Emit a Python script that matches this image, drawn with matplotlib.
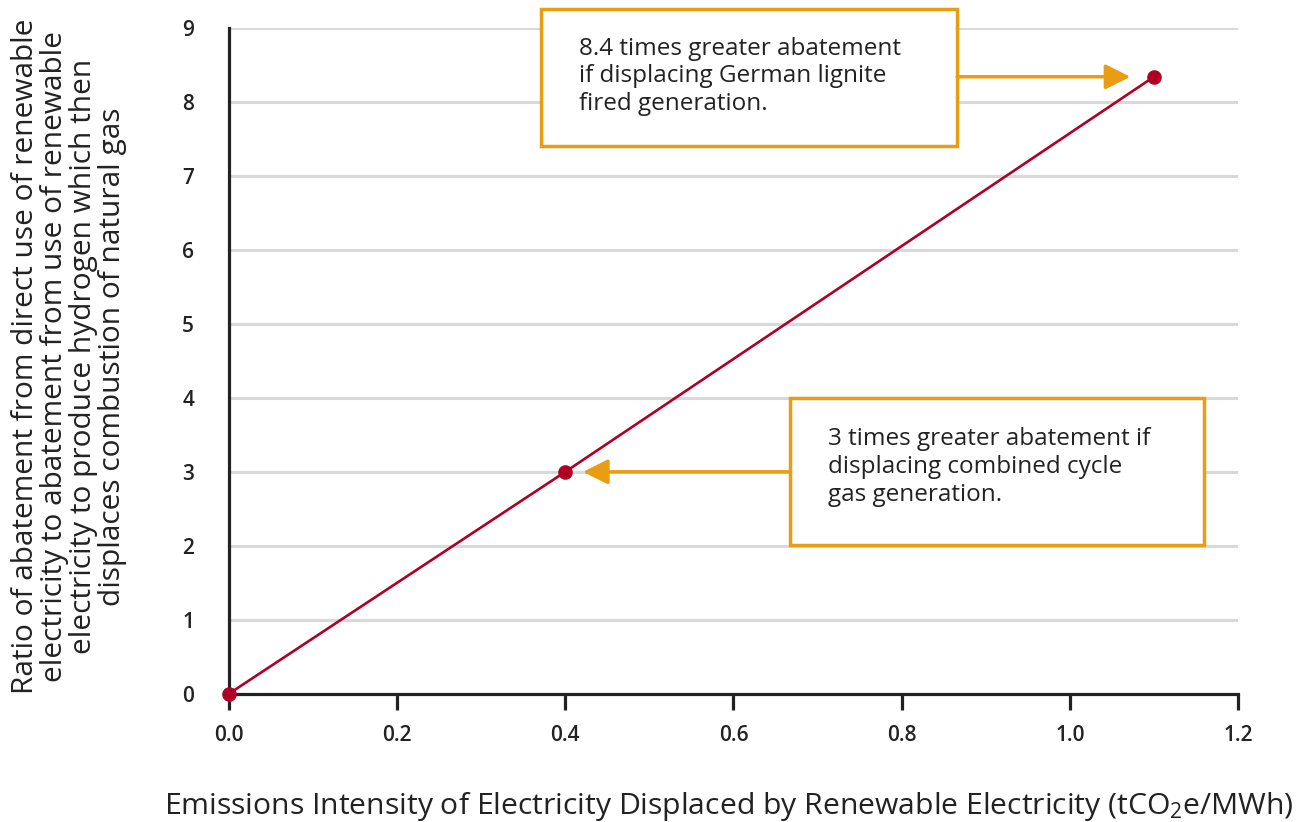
import matplotlib
matplotlib.use('Agg')
import matplotlib.pyplot as plt
from matplotlib.patches import Rectangle

# data
intensity = [0.0, 0.4, 1.1]
ratio = [0.0, 3.0, 8.34]
x_ticks = [0.0, 0.2, 0.4, 0.6, 0.8, 1.0, 1.2]
y_ticks = list(range(10))

note_lignite = "8.4 times greater abatement\nif displacing German lignite\nfired generation."
note_gas = "3 times greater abatement if\ndisplacing combined cycle\ngas generation."

RED = '#B00025'
ORANGE = '#E89D12'
DARK = '#222222'

plt.rcParams['font.family'] = ['Open Sans', 'DejaVu Sans']
plt.rcParams['mathtext.fontset'] = 'custom'
plt.rcParams['mathtext.rm'] = 'Open Sans'
plt.rcParams['mathtext.it'] = 'Open Sans:italic'

fig = plt.figure(figsize=(13.08, 8.22), dpi=100)
ax = fig.add_axes([0.175, 0.156, 0.7715, 0.81])

ax.set_xlim(0, 1.2)
ax.set_ylim(0, 9)
ax.set_xticks(x_ticks)
ax.set_xticklabels([f'{v:.1f}' for v in x_ticks])
ax.set_yticks(y_ticks)

for v in y_ticks[1:]:
    ax.axhline(v, color='#d9d9d9', lw=2.2, zorder=0)

ax.plot(intensity, ratio, color=RED, lw=1.9, marker='o', markersize=9.5,
        clip_on=False, zorder=5)

for s in ['top', 'right']:
    ax.spines[s].set_visible(False)
for s in ['left', 'bottom']:
    ax.spines[s].set_linewidth(2.3)
    ax.spines[s].set_color(DARK)
    ax.spines[s].set_zorder(3)

ax.tick_params(axis='x', direction='out', length=11.5, width=2.3, color=DARK,
               pad=11, labelsize=15, labelcolor=DARK)
ax.tick_params(axis='y', length=0, pad=25, labelsize=15, labelcolor=DARK)
for lbl in ax.get_xticklabels() + ax.get_yticklabels():
    lbl.set_fontweight('semibold')

# annotation boxes
ax.add_patch(Rectangle((0.371, 7.41), 0.495, 1.85, facecolor='white',
                       edgecolor=ORANGE, lw=2.5, clip_on=False, zorder=6))
ax.text(0.416, 8.88, note_lignite, fontsize=17.5, color=DARK, va='top',
        linespacing=1.2, zorder=7)
ax.annotate('', xy=(1.072, 8.34), xytext=(0.866, 8.34),
            arrowprops=dict(arrowstyle='-|>', color=ORANGE, lw=2.5,
                            mutation_scale=38, shrinkA=0, shrinkB=0),
            zorder=6)

ax.add_patch(Rectangle((0.667, 2.01), 0.493, 1.99, facecolor='white',
                       edgecolor=ORANGE, lw=2.5, clip_on=False, zorder=6))
ax.text(0.712, 3.60, note_gas, fontsize=17.5, color=DARK, va='top',
        linespacing=1.2, zorder=7)
ax.annotate('', xy=(0.421, 3.0), xytext=(0.667, 3.0),
            arrowprops=dict(arrowstyle='-|>', color=ORANGE, lw=2.5,
                            mutation_scale=38, shrinkA=0, shrinkB=0),
            zorder=6)

fig.text(0.053, 0.566,
         'Ratio of abatement from direct use of renewable\n'
         'electricity to abatement from use of renewable\n'
         'electricity to produce hydrogen which then\n'
         'displaces combustion of natural gas',
         rotation=90, ha='center', va='center', multialignment='center',
         fontsize=21.5, color=DARK, linespacing=1.0)

fig.text(0.557, 0.019,
         r'Emissions Intensity of Electricity Displaced by Renewable Electricity (tCO$_2$e/MWh)',
         ha='center', va='center', fontsize=21.7, color=DARK)

fig.savefig('out.png', dpi=100)
